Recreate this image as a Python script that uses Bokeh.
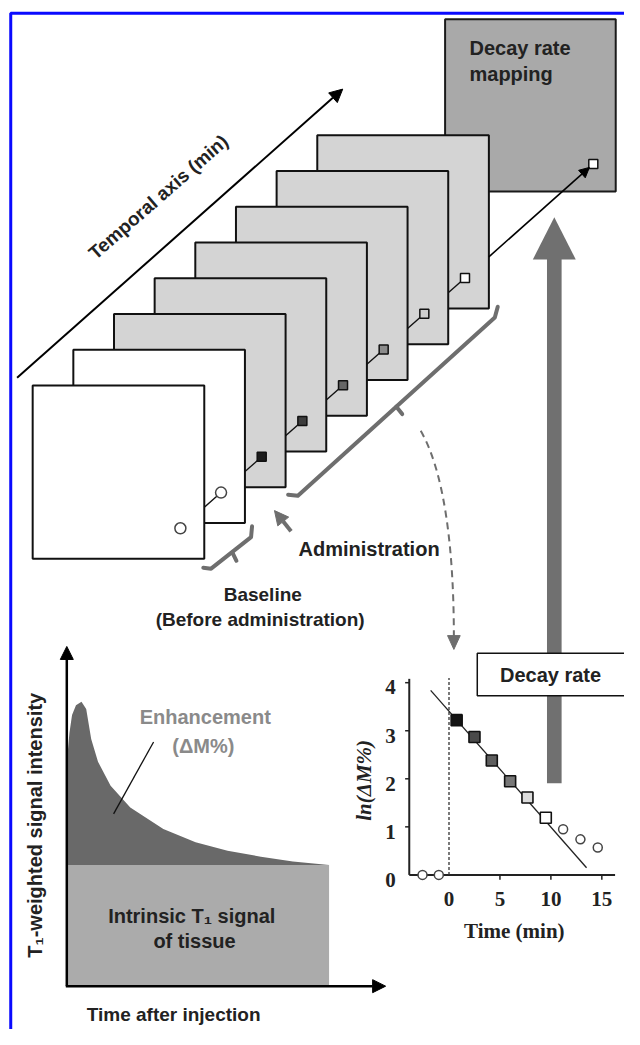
import math
from bokeh.plotting import figure
from bokeh.models import Range1d, Arrow, NormalHead
from bokeh.core.properties import value
from bokeh.embed import file_html
from bokeh.resources import INLINE

# ---------------- data ----------------
# inset: ln(dM%) versus time (min)
pre_time = [-2.6, -1.0]
pre_ln = [0.0, 0.0]
fit_time = [0.75, 2.5, 4.2, 6.0, 7.7, 9.5]
fit_ln = [3.22, 2.87, 2.38, 1.95, 1.61, 1.19]
late_time = [11.2, 12.9, 14.6]
late_ln = [0.95, 0.74, 0.57]
line_time = [-1.8, 13.5]
line_ln = [3.84, 0.15]
x_ticks = [0, 5, 10, 15]
y_ticks = [0, 1, 2, 3, 4]

# left schematic: T1-weighted signal vs time after injection (arbitrary units)
curve_t = [0.0, 0.02, 0.1, 0.2, 0.35, 0.56, 0.74, 0.93, 1.19, 1.67, 2.42, 3.68, 4.91, 6.13, 7.4, 8.62, 10.0]
curve_s = [1.0, 1.9, 2.1, 2.25, 2.33, 2.36, 2.3, 2.05, 1.86, 1.66, 1.48, 1.3, 1.19, 1.12, 1.07, 1.03, 1.0]
intrinsic_level = 1.0
curve_end = 10.0

# stack of image frames: 2 baseline + 6 post-administration
n_baseline = 2
n_post = 6

# ---------------- styles ----------------
GRAY = "#6e6e6e"
FRAME_GRAY = "#d4d4d4"
post_fill = ["#1c1c1c", "#3d3d3d", "#666666", "#8c8c8c", "#cfcfcf", "#ffffff"]
inset_fill = ["#141414", "#4a4a4a", "#5e5e5e", "#777777", "#dcdcdc", "#ffffff"]
SANS = "Liberation Sans"
SERIF = "Liberation Serif"

W, H = 624, 1029
XMAX, YMAX = 640.0, 1045.0
p = figure(width=W, height=H, x_range=Range1d(0, XMAX), y_range=Range1d(YMAX, 0),
           output_backend="svg", toolbar_location=None,
           x_axis_location=None, y_axis_location=None, min_border=0,
           outline_line_color=None, background_fill_color="white",
           border_fill_color="white")
p.grid.visible = False

# inset panel placement (pixel of origin, pixels per unit)
ix0, ixs = 460.0, 10.45
iy0, iys = 888.0, 48.8
# left schematic placement
lx0, lxs = 68.0, 26.9
ly0, lys = 1000.0, 122.0
p.extra_x_ranges = {"inset": Range1d((0 - ix0) / ixs, (XMAX - ix0) / ixs),
                    "curve": Range1d((0 - lx0) / lxs, (XMAX - lx0) / lxs)}
p.extra_y_ranges = {"inset": Range1d((iy0 - YMAX) / iys, (iy0 - 0) / iys),
                    "curve": Range1d((ly0 - YMAX) / lys, (ly0 - 0) / lys)}


def txt(x, y, s, size=20, color="#222222", align="center", angle=0.0, font=SANS,
        style="bold", xr="default", yr="default", baseline="middle"):
    p.text(x=[x], y=[y], text=[s], text_font=value(font), text_font_size=f"{size}px",
           text_font_style=style, text_color=color, text_align=align,
           text_baseline=baseline, angle=angle, x_range_name=xr, y_range_name=yr)


# blue border
p.line(x=[10.5, 10.5, XMAX], y=[YMAX, 13, 13], line_color="#0a0aff", line_width=3)

# temporal axis
p.add_layout(Arrow(end=NormalHead(size=13, fill_color="black", line_color="black"),
                   x_start=17, y_start=383, x_end=351, y_end=90,
                   line_width=2, line_color="black"))
txt(166, 196, "Temporal  axis  (min)", size=19, angle=math.atan2(293, 335))

# decay rate mapping box
p.quad(left=[456], right=[631], top=[19], bottom=[194], fill_color="#a9a9a9",
       line_color="#1a1a1a", line_width=2)
txt(481, 48, "Decay  rate", size=20, align="left")
txt(481, 75, "mapping", size=20, align="left")
map_mx, map_my = 608, 166
p.scatter(x=[map_mx], y=[map_my], marker="square", size=9, fill_color="white",
          line_color="#111111", line_width=1.5)

# frames, back to front
n_frames = n_baseline + n_post
FS = 176
left0, top0, dx, dy = 33.0, 391.0, 41.7, -36.3
lefts = [left0 + i * dx for i in range(n_frames)]
tops = [top0 + i * dy for i in range(n_frames)]
mx = [l + 151.5 for l in lefts]
my = [t + 145 for t in tops]

for i in range(n_frames - 1, -1, -1):
    fill = "white" if i < n_baseline else FRAME_GRAY
    p.quad(left=[lefts[i]], right=[lefts[i] + FS], top=[tops[i]], bottom=[tops[i] + FS],
           fill_color=fill, line_color="#111111", line_width=2)
    if i > 0:
        p.line(x=[mx[i], mx[i - 1]], y=[my[i], my[i - 1]], line_color="#111111", line_width=1.4)
    if i < n_baseline:
        p.scatter(x=[mx[i]], y=[my[i]], marker="circle", size=11, fill_color="white",
                  line_color="#444444", line_width=1.5)
    else:
        p.scatter(x=[mx[i]], y=[my[i]], marker="square", size=9,
                  fill_color=post_fill[i - n_baseline], line_color="#111111", line_width=1.5)

# arrow from last frame to mapping box
x_edge = lefts[-1] + FS
t_e = (x_edge - mx[-1]) / (map_mx - mx[-1])
y_edge = my[-1] + t_e * (map_my - my[-1])
p.add_layout(Arrow(end=NormalHead(size=10, fill_color="black", line_color="black"),
                   x_start=x_edge, y_start=y_edge, x_end=map_mx - 4, y_end=map_my + 3.5,
                   line_width=1.6, line_color="black"))

# brackets
p.multi_line(xs=[[295, 305, 507, 510], [406, 412]],
             ys=[[502, 503, 322, 311], [412.5, 420]],
             line_color=GRAY, line_width=4, line_join="round", line_cap="round")
p.multi_line(xs=[[208, 216, 257, 258], [238, 242]],
             ys=[[576, 577, 545, 534], [561, 569]],
             line_color=GRAY, line_width=4, line_join="round", line_cap="round")

# administration arrow
p.add_layout(Arrow(end=NormalHead(size=14, fill_color=GRAY, line_color=GRAY),
                   x_start=298, y_start=539, x_end=281, y_end=518,
                   line_width=4, line_color=GRAY))
txt(378, 557, "Administration", size=20)
txt(269, 603, "Baseline", size=19)
txt(269, 629, "(Before  administration)", size=19)

# dashed curved arrow to inset
p.bezier(x0=[431], y0=[437], x1=[465], y1=[647], cx0=[456], cy0=[480], cx1=[465], cy1=[560],
         line_color=GRAY, line_width=2, line_dash="7 5")
p.patch(x=[458.5, 471.5, 465], y=[645, 645, 659], fill_color=GRAY, line_color=GRAY)

# big vertical arrow
p.quad(left=[560.5], right=[575.5], top=[262], bottom=[795], fill_color="#707070", line_color=None)
p.patch(x=[546, 590, 568], y=[263, 263, 220], fill_color="#707070", line_color=None)

# decay rate box
p.quad(left=[489], right=[650], top=[663], bottom=[706], fill_color="white",
       line_color="#111111", line_width=1.5)
txt(567, 685, "Decay  rate", size=20)

# ---------------- left schematic ----------------
p.quad(left=[0], right=[curve_end], bottom=[0], top=[intrinsic_level], fill_color="#ababab",
       line_color=None, x_range_name="curve", y_range_name="curve")
p.varea(x=curve_t, y1=[intrinsic_level] * len(curve_t), y2=curve_s, fill_color="#696969",
        x_range_name="curve", y_range_name="curve")
p.add_layout(Arrow(end=NormalHead(size=13, fill_color="black", line_color="black"),
                   x_start=68, y_start=1001, x_end=68, y_end=656,
                   line_width=2.5, line_color="black"))
p.add_layout(Arrow(end=NormalHead(size=13, fill_color="black", line_color="black"),
                   x_start=67, y_start=1001, x_end=395, y_end=1001,
                   line_width=2.5, line_color="black"))
p.line(x=[157, 116], y=[753, 826], line_color="#111111", line_width=1.3)
txt(210, 728, "Enhancement", size=20, color="#8a8a8a")
txt(208, 757, "(ΔM%)", size=20, color="#8a8a8a")
txt(199, 930, "Intrinsic  T\u2081 signal", size=20)
txt(199, 955, "of tissue", size=20)
txt(35, 832, "T\u2081-weighted  signal  intensity", size=20, angle=math.pi / 2)
txt(183, 1030, "Time  after  injection", size=19)

# ---------------- inset plot ----------------
IR = dict(x_range_name="inset", y_range_name="inset")
x_lo, x_hi, y_hi = -3.9, 16.3, 4.08
p.line(x=[x_lo, x_lo], y=[0, y_hi], line_color="#222222", line_width=2, **IR)
p.line(x=[x_lo, x_hi], y=[0, 0], line_color="#222222", line_width=2, **IR)
p.segment(x0=[415] * 4, x1=[419] * 4, y0=y_ticks[1:], y1=y_ticks[1:], line_color="#222222",
          line_width=1.5, x_range_name="default", y_range_name="inset")
p.segment(x0=x_ticks[1:], x1=x_ticks[1:], y0=[888] * 3, y1=[893] * 3, line_color="#222222",
          line_width=1.5, x_range_name="inset", y_range_name="default")
p.line(x=[0, 0], y=[0, 4.1], line_color="#333333", line_width=1.3, line_dash="3 2", **IR)
p.line(x=line_time, y=line_ln, line_color="#222222", line_width=1.3, **IR)
p.scatter(x=pre_time, y=pre_ln, marker="circle", size=9, fill_color="white",
          line_color="#444444", line_width=1.5, **IR)
p.scatter(x=late_time, y=late_ln, marker="circle", size=9, fill_color="white",
          line_color="#444444", line_width=1.5, **IR)
p.scatter(x=fit_time, y=fit_ln, marker="square", size=11, fill_color=inset_fill,
          line_color="#111111", line_width=1.6, **IR)
for v in y_ticks:
    p.text(x=[400], y=[v - 0.1], text=[str(v)], text_font=value(SERIF), text_font_size="21px",
           text_font_style="bold", text_color="#222222", text_align="center",
           text_baseline="middle", x_range_name="default", y_range_name="inset")
for t in x_ticks:
    p.text(x=[t], y=[912], text=[str(t)], text_font=value(SERIF), text_font_size="21px",
           text_font_style="bold", text_color="#222222", text_align="center",
           text_baseline="middle", x_range_name="inset", y_range_name="default")
txt(527, 945, "Time (min)", size=21, font=SERIF)
txt(373, 792, "ln(ΔM%)", size=21, font=SERIF, style="bold italic", angle=math.pi / 2)

open("out.html", "w").write(file_html(p, INLINE))
